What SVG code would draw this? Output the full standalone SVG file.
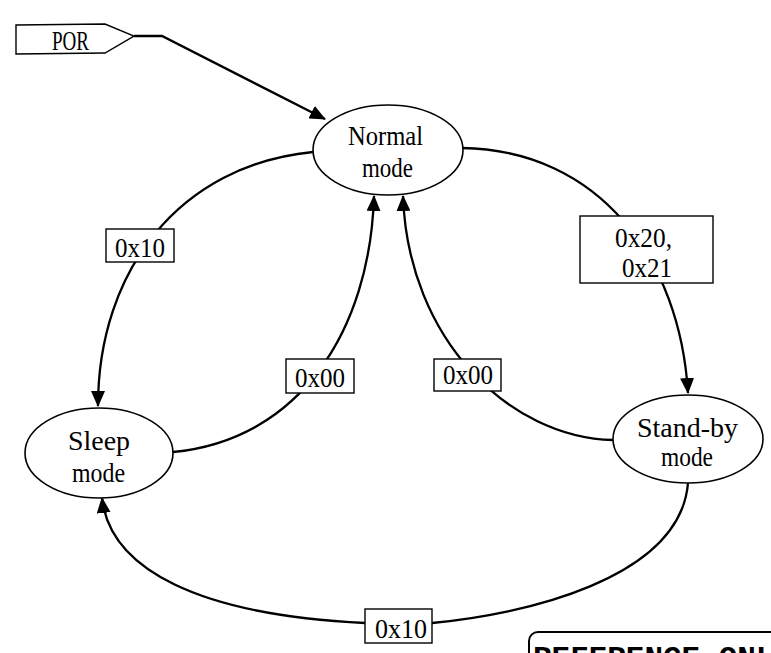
<svg xmlns="http://www.w3.org/2000/svg" width="771" height="653" viewBox="0 0 771 653">
<style>
.node{fill:#fff;stroke:#000;stroke-width:1.6}
.lbl{fill:#fff;stroke:#000;stroke-width:1.4}
.conn{fill:none;stroke:#000;stroke-width:2.3}
.t{font-family:"Liberation Serif","Times New Roman",serif;font-size:28px;text-anchor:middle;fill:#000}
.w{font-family:"Liberation Mono","Courier New",monospace;font-size:30px;font-weight:bold;fill:#000}
</style>
<defs>
<marker id="arr" viewBox="0 0 16 14" refX="15" refY="7" markerWidth="16" markerHeight="14" markerUnits="userSpaceOnUse" orient="auto">
<path d="M0,0 L16,7 L0,14 Z" fill="#000"/>
</marker>
</defs>
<rect width="771" height="653" fill="#fff"/>
<g id="connectors">
<path class="conn" d="M134,36 L162,36 L325,119" marker-end="url(#arr)"/>
<path class="conn" d="M313,152 C180,165 98,270 98,406" marker-end="url(#arr)"/>
<path class="conn" d="M173,452 C300,440 370,330 374,196" marker-end="url(#arr)"/>
<path class="conn" d="M613,440 C510,438 408,340 403,196" marker-end="url(#arr)"/>
<path class="conn" d="M462,148 C600,150 680,260 688,393" marker-end="url(#arr)"/>
<path class="conn" d="M688,483 C680,580 520,615 432,623 L365,623 C200,615 110,570 102,498" marker-end="url(#arr)"/>
</g>
<g id="por">
<polygon class="lbl" points="16,25 105,24 134,36 105,53 16,54"/>
<text class="t" x="70.5" y="50" textLength="37" lengthAdjust="spacingAndGlyphs">POR</text>
</g>
<g id="normal">
<ellipse class="node" cx="388" cy="150" rx="75" ry="45"/>
<text class="t" x="385.5" y="145" textLength="75" lengthAdjust="spacingAndGlyphs">Normal</text>
<text class="t" x="387.5" y="177" textLength="51" lengthAdjust="spacingAndGlyphs">mode</text>
</g>
<g id="sleep">
<ellipse class="node" cx="99" cy="453" rx="74" ry="45"/>
<text class="t" x="99" y="450" textLength="62" lengthAdjust="spacingAndGlyphs">Sleep</text>
<text class="t" x="98.5" y="482" textLength="53" lengthAdjust="spacingAndGlyphs">mode</text>
</g>
<g id="standby">
<ellipse class="node" cx="688" cy="439" rx="75" ry="44"/>
<text class="t" x="687.5" y="437" textLength="101" lengthAdjust="spacingAndGlyphs">Stand-by</text>
<text class="t" x="687" y="466" textLength="52" lengthAdjust="spacingAndGlyphs">mode</text>
</g>
<g id="lbl-sleep-in">
<rect class="lbl" x="106" y="229" width="68" height="33"/>
<text class="t" x="140" y="257" textLength="50" lengthAdjust="spacingAndGlyphs">0x10</text>
</g>
<g id="lbl-sleep-out">
<rect class="lbl" x="286" y="359" width="68" height="34"/>
<text class="t" x="320" y="387" textLength="50" lengthAdjust="spacingAndGlyphs">0x00</text>
</g>
<g id="lbl-standby-out">
<rect class="lbl" x="434" y="359" width="67" height="32"/>
<text class="t" x="468" y="384" textLength="50" lengthAdjust="spacingAndGlyphs">0x00</text>
</g>
<g id="lbl-standby-in">
<rect class="lbl" x="580" y="216" width="133" height="67"/>
<text class="t" x="643.5" y="247" textLength="57" lengthAdjust="spacingAndGlyphs">0x20,</text>
<text class="t" x="647" y="277" textLength="50" lengthAdjust="spacingAndGlyphs">0x21</text>
</g>
<g id="lbl-bottom">
<rect class="lbl" x="365" y="609" width="67" height="34"/>
<text class="t" x="401" y="638" textLength="52" lengthAdjust="spacingAndGlyphs">0x10</text>
</g>
<g id="stamp">
<rect x="529" y="632" width="300" height="100" rx="9" fill="#fff" stroke="#000" stroke-width="2"/>
<text class="w" x="533" y="667" textLength="260" lengthAdjust="spacingAndGlyphs">REFERENCE ONLY</text>
</g>
</svg>
